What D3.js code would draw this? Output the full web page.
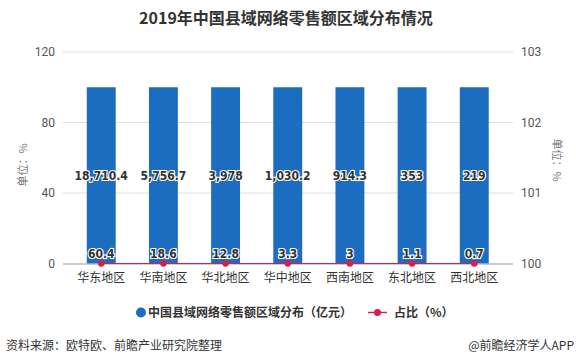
<!DOCTYPE html>
<html><head><meta charset="utf-8">
<script src="https://cdn.jsdelivr.net/npm/d3@7"></script>
<style>body{margin:0;background:#fff;}svg{display:block;font-family:"Noto Sans CJK SC","Noto Sans",sans-serif;}</style>
</head><body><svg id="c" width="576" height="364"></svg>
<script>
const categories = ["华东地区","华南地区","华北地区","华中地区","西南地区","东北地区","西北地区"];
const barHeights = [100,100,100,100,100,100,100];
const salesLabels = ["18,710.4","5,756.7","3,978","1,030.2","914.3","353","219"];
const shareValues = [60.4,18.6,12.8,3.3,3,1.1,0.7];
const leftTicks = [0,40,80,120];
const rightTicks = [100,101,102,103];

const svg = d3.select("#c");
const blue = "#1c6cc0", red = "#d6204a";
const x = d3.scaleBand().domain(categories).range([70,505.5]).paddingInner(0.535).paddingOuter(0.27);
const y = d3.scaleLinear().domain([0,120]).range([263.5,52]);
const y2 = d3.scaleLinear().domain([100,103]).range([263.5,52]).clamp(true);

svg.append("text").attr("x",286).attr("y",24).attr("text-anchor","middle")
  .attr("font-size",16).attr("font-weight","bold").attr("fill","#333")
  .text("2019年中国县域网络零售额区域分布情况");

// gridlines
svg.append("g").selectAll("line").data(leftTicks.filter(d=>d>0)).join("line")
  .attr("x1",63).attr("x2",513).attr("y1",d=>y(d)).attr("y2",d=>y(d))
  .attr("stroke","#ddd").attr("stroke-width",1);

// left axis
const ga = svg.append("g").attr("transform","translate(63,0)")
  .call(d3.axisLeft(y).tickValues(leftTicks).tickSize(0).tickPadding(8));
ga.select(".domain").remove();
ga.selectAll("text").attr("font-size",12).attr("fill","#555").attr("font-family","Roboto,'Noto Sans',sans-serif");
const gr = svg.append("g").attr("transform","translate(513,0)")
  .call(d3.axisRight(y2).tickValues(rightTicks).tickFormat(d3.format("d")).tickSize(0).tickPadding(8));
gr.select(".domain").remove();
gr.selectAll("text").attr("font-size",12).attr("fill","#555").attr("font-family","Roboto,'Noto Sans',sans-serif");

svg.append("text").attr("transform","translate(27,165) rotate(-90)").attr("text-anchor","middle")
  .attr("font-size",11).attr("fill","#777").text("单位：%");
svg.append("text").attr("transform","translate(553,160) rotate(90)").attr("text-anchor","middle")
  .attr("font-size",11).attr("fill","#777").text("单位：%");

// bars
svg.append("g").selectAll("rect").data(categories).join("rect")
  .attr("x",d=>x(d)).attr("width",x.bandwidth())
  .attr("y",(d,i)=>y(barHeights[i])).attr("height",(d,i)=>y(0)-y(barHeights[i]))
  .attr("fill",blue);

// x axis
svg.append("line").attr("x1",63).attr("x2",513).attr("y1",y(0)+0.5).attr("y2",y(0)+0.5).attr("stroke","#999");
svg.append("g").selectAll("text").data(categories).join("text")
  .attr("x",d=>x(d)+x.bandwidth()/2).attr("y",282).attr("text-anchor","middle")
  .attr("font-size",12).attr("fill","#333").text(d=>d);

// line
const line = d3.line().x((d,i)=>x(categories[i])+x.bandwidth()/2).y(d=>y2(d));
svg.append("path").datum(shareValues).attr("d",line).attr("fill","none").attr("stroke",red).attr("stroke-width",1.2);
svg.append("g").selectAll("circle").data(shareValues).join("circle")
  .attr("cx",(d,i)=>x(categories[i])+x.bandwidth()/2).attr("cy",d=>y2(d)).attr("r",3.2).attr("fill",red);

// labels
const lab = (sel)=>sel.attr("text-anchor","middle").attr("font-size",12).attr("font-weight","bold")
  .attr("fill","#333").attr("stroke","#fff").attr("stroke-width",2.2).attr("paint-order","stroke")
  .attr("font-family","'DejaVu Sans Condensed','Liberation Sans',sans-serif");
svg.append("g").selectAll("text").data(salesLabels).join("text")
  .attr("x",(d,i)=>x(categories[i])+x.bandwidth()/2).attr("y",(d,i)=>y(barHeights[i]/2)+4.5)
  .call(lab).text(d=>d);
svg.append("g").selectAll("text").data(shareValues).join("text")
  .attr("x",(d,i)=>x(categories[i])+x.bandwidth()/2).attr("y",(d,i)=>y2(d)-6)
  .call(lab).text(d=>d);

// legend
svg.append("circle").attr("cx",141).attr("cy",312.5).attr("r",5).attr("fill",blue);
svg.append("text").attr("x",148).attr("y",317).attr("font-size",12).attr("font-weight","bold").attr("fill","#333")
  .text("中国县域网络零售额区域分布（亿元）");
svg.append("line").attr("x1",368).attr("x2",387).attr("y1",312.5).attr("y2",312.5).attr("stroke",red).attr("stroke-width",1.5);
svg.append("circle").attr("cx",377.5).attr("cy",312.5).attr("r",3.5).attr("fill",red);
svg.append("text").attr("x",394).attr("y",317).attr("font-size",12).attr("font-weight","bold").attr("fill","#333")
  .text("占比（%）");

// footer
svg.append("text").attr("x",6).attr("y",350).attr("font-size",12).attr("fill","#333").text("资料来源：欧特欧、前瞻产业研究院整理");
svg.append("text").attr("x",574).attr("y",350).attr("text-anchor","end").attr("font-size",12).attr("fill","#333").text("@前瞻经济学人APP");
</script></body></html>
